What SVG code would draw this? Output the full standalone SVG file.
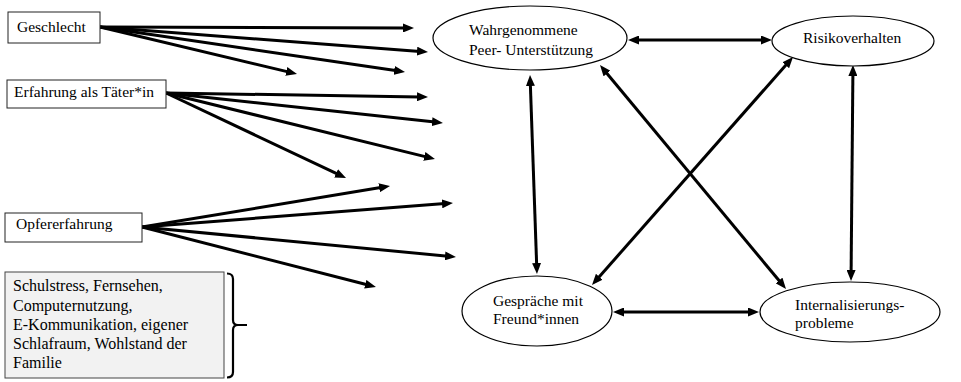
<svg xmlns="http://www.w3.org/2000/svg" width="961" height="382" viewBox="0 0 961 382">
<style>
  .box { fill: #ffffff; stroke: #222; stroke-width: 1; }
  .gbox { fill: #f2f2f2; stroke: #444; stroke-width: 1; }
  .ell { fill: #ffffff; stroke: #000; stroke-width: 1.2; }
  .t { font-family: 'Liberation Serif', 'Times New Roman', serif; font-size: 15.5px; fill: #000; }
  .g { font-size: 16px; }
  .a { stroke: #000; stroke-width: 3; fill: none; marker-end: url(#ah); }
  .d { stroke: #000; stroke-width: 3; fill: none; marker-end: url(#ah); marker-start: url(#ah); }
  .br { stroke: #000; stroke-width: 2.2; fill: none; }
</style>
<defs>
  <marker id="ah" viewBox="0 0 11 9" markerWidth="11" markerHeight="9" refX="3" refY="4.5" markerUnits="userSpaceOnUse" orient="auto-start-reverse">
    <path d="M0,0 L11,4.5 L0,9 z" fill="#000"/>
  </marker>
</defs>
<rect width="961" height="382" fill="#ffffff"/>
<g id="connectors">
  <line class="a" x1="100" y1="27" x2="406" y2="28"/>
  <line class="a" x1="100" y1="27" x2="420" y2="51.4"/>
  <line class="a" x1="100" y1="27" x2="397.1" y2="70.8"/>
  <line class="a" x1="100" y1="27" x2="289.2" y2="72.1"/>
  <line class="a" x1="166" y1="93" x2="420" y2="96.9"/>
  <line class="a" x1="166" y1="93" x2="435" y2="122.1"/>
  <line class="a" x1="166" y1="93" x2="427.2" y2="157.1"/>
  <line class="a" x1="166" y1="93" x2="338.8" y2="174.6"/>
  <line class="a" x1="142" y1="227" x2="382.1" y2="187.3"/>
  <line class="a" x1="142" y1="227" x2="445" y2="203.6"/>
  <line class="a" x1="142" y1="227" x2="448" y2="256.2"/>
  <line class="a" x1="142" y1="227" x2="368.2" y2="285"/>
  <line class="d" x1="636" y1="40" x2="764" y2="40"/>
  <line class="d" x1="530.3" y1="83" x2="536.7" y2="266"/>
  <line class="d" x1="605.1" y1="71.2" x2="780.9" y2="282.8"/>
  <line class="d" x1="787.7" y1="63" x2="597.3" y2="279"/>
  <line class="d" x1="852.9" y1="73" x2="851.1" y2="273"/>
  <line class="d" x1="621" y1="312" x2="751" y2="312"/>
</g>
<g id="geschlecht">
  <rect class="box" x="8" y="12" width="92" height="31"/>
  <text class="t" x="17" y="32">Geschlecht</text>
</g>
<g id="taeter">
  <rect class="box" x="7" y="80" width="159" height="28"/>
  <text class="t" x="14" y="97">Erfahrung als Täter*in</text>
</g>
<g id="opfer">
  <rect class="box" x="5" y="213" width="137" height="29"/>
  <text class="t" x="16" y="229">Opfererfahrung</text>
</g>
<g id="kovariaten">
  <rect class="gbox" x="5" y="272" width="219" height="106"/>
  <text class="t g" x="13" y="291">Schulstress, Fernsehen,</text>
  <text class="t g" x="13" y="310.5">Computernutzung,</text>
  <text class="t g" x="13" y="330">E-Kommunikation, eigener</text>
  <text class="t g" x="13" y="349">Schlafraum, Wohlstand der</text>
  <text class="t g" x="13" y="368">Familie</text>
  <path class="br" d="M227,273.5 Q233,273.5 233,279 L233,320 Q233,325 238,325 L247,325 M238,325 Q233,325 233,330 L233,372 Q233,377.5 227,377.5"/>
</g>
<g id="peer">
  <ellipse class="ell" cx="530" cy="38" rx="97" ry="32"/>
  <text class="t" x="469" y="35">Wahrgenommene</text>
  <text class="t" x="469" y="55">Peer- Unterstützung</text>
</g>
<g id="risiko">
  <ellipse class="ell" cx="853" cy="41" rx="81" ry="25"/>
  <text class="t" x="803" y="43">Risikoverhalten</text>
</g>
<g id="gespraeche">
  <ellipse class="ell" cx="537" cy="311" rx="75" ry="35"/>
  <text class="t" x="493" y="306">Gespräche mit</text>
  <text class="t" x="493" y="324">Freund*innen</text>
</g>
<g id="internal">
  <ellipse class="ell" cx="850" cy="312" rx="90" ry="30"/>
  <text class="t" x="795" y="310">Internalisierungs-</text>
  <text class="t" x="795" y="328">probleme</text>
</g>
</svg>
